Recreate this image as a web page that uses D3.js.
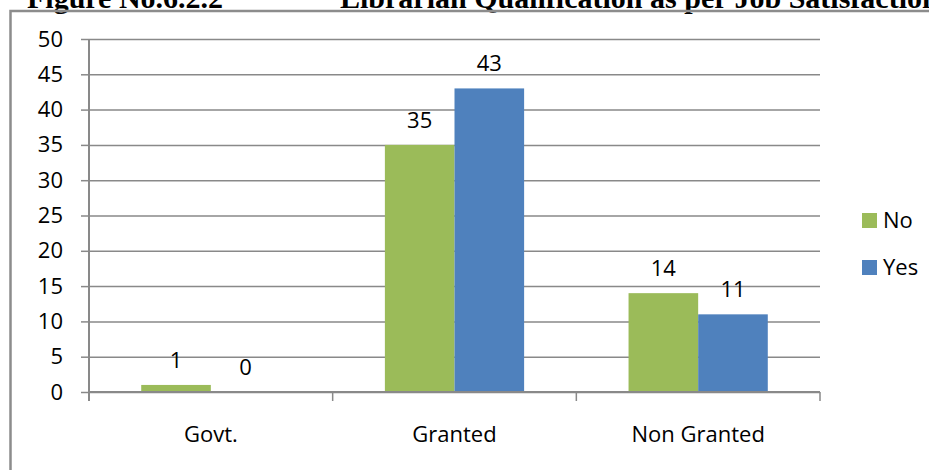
<!DOCTYPE html>
<html>
<head>
<meta charset="utf-8">
<script src="https://cdn.jsdelivr.net/npm/d3@7"></script>
<style>
  html, body { margin: 0; padding: 0; background: #fff; overflow: hidden; }
  svg { display: block; }
</style>
</head>
<body>
<svg id="chart" width="929" height="470"></svg>
<script>
// Librarian qualification by job satisfaction
const categories = ["Govt.", "Granted", "Non Granted"];
const seriesNames = ["No", "Yes"];
const noValues = [1, 35, 14];
const yesValues = [0, 43, 11];
const yTicks = [0, 5, 10, 15, 20, 25, 30, 35, 40, 45, 50];
const colors = { No: "#9BBB59", Yes: "#4F81BD" };

const rows = categories.map((c, i) => ({ category: c, No: noValues[i], Yes: yesValues[i] }));

const svg = d3.select("#chart");
const font = "'Open Sans', 'Noto Sans', sans-serif";
const axisGray = "#898989";

const plot = { left: 89, right: 820, top: 39, bottom: 392 };

// Figure caption above the chart frame
svg.append("text")
  .attr("x", 27).attr("y", 8)
  .attr("font-family", "'Liberation Serif', 'Times New Roman', serif")
  .attr("font-weight", "bold").attr("font-size", 30)
  .attr("fill", "#000")
  .text("Figure No.6.2.2");
svg.append("text")
  .attr("x", 340).attr("y", 8)
  .attr("font-family", "'Liberation Serif', 'Times New Roman', serif")
  .attr("font-weight", "bold").attr("font-size", 30)
  .attr("fill", "#000")
  .text("Librarian Qualification as per Job Satisfaction");

// Chart frame (runs past the right and bottom edges)
svg.append("rect")
  .attr("x", 10.5).attr("y", 11)
  .attr("width", 1000).attr("height", 1000)
  .attr("fill", "none")
  .attr("stroke", "#8c8c8c").attr("stroke-width", 2.5);

const y = d3.scaleLinear().domain([0, 50]).range([plot.bottom, plot.top]);
const x0 = d3.scaleBand().domain(categories).range([plot.left, plot.right]).paddingInner(0).paddingOuter(0);
const x1 = d3.scaleBand().domain(seriesNames).range([0, x0.bandwidth()]).paddingInner(0).paddingOuter(0.75);

// Horizontal gridlines
const grid = svg.append("g")
  .attr("transform", `translate(${plot.left},0)`)
  .call(d3.axisLeft(y).tickValues(yTicks).tickSize(-(plot.right - plot.left)).tickFormat(""));
grid.select(".domain").remove();
grid.selectAll(".tick line").attr("stroke", axisGray).attr("stroke-width", 1.5);

// Y axis with labels
const yAxis = svg.append("g")
  .attr("transform", `translate(${plot.left},0)`)
  .call(d3.axisLeft(y).tickValues(yTicks).tickSize(8).tickPadding(18).tickSizeOuter(0));
yAxis.select(".domain").remove();
yAxis.selectAll(".tick line").attr("stroke", axisGray).attr("stroke-width", 1.5);
yAxis.selectAll(".tick text")
  .attr("font-family", font).attr("font-size", 22).attr("fill", "#000");

// Y axis spine, extended slightly below zero
svg.append("line")
  .attr("x1", plot.left).attr("x2", plot.left)
  .attr("y1", plot.top).attr("y2", plot.bottom + 9)
  .attr("stroke", axisGray).attr("stroke-width", 2);

// Bars
const groups = svg.append("g").selectAll("g")
  .data(rows).join("g")
  .attr("transform", d => `translate(${x0(d.category)},0)`);

groups.selectAll("rect")
  .data(d => seriesNames.map(k => ({ key: k, value: d[k] })))
  .join("rect")
  .attr("x", d => x1(d.key))
  .attr("width", x1.bandwidth())
  .attr("y", d => y(d.value))
  .attr("height", d => y(0) - y(d.value))
  .attr("fill", d => colors[d.key]);

// Value labels
groups.selectAll("text.value")
  .data(d => seriesNames.map(k => ({ key: k, value: d[k] })))
  .join("text")
  .attr("class", "value")
  .attr("x", d => x1(d.key) + x1.bandwidth() / 2)
  .attr("y", d => y(d.value) - 17)
  .attr("text-anchor", "middle")
  .attr("font-family", font).attr("font-size", 22).attr("fill", "#000")
  .text(d => d.value);

// X axis with category labels
const xAxis = svg.append("g")
  .attr("transform", `translate(0,${plot.bottom})`)
  .call(d3.axisBottom(x0).tickSize(0).tickPadding(0));
xAxis.select(".domain").remove();
xAxis.selectAll(".tick text")
  .attr("dy", null).attr("y", 50)
  .attr("font-family", font).attr("font-size", 22).attr("fill", "#000");

svg.append("line")
  .attr("x1", plot.left).attr("x2", plot.right)
  .attr("y1", plot.bottom).attr("y2", plot.bottom)
  .attr("stroke", axisGray).attr("stroke-width", 2);

// Category boundary tick marks
const boundaries = categories.map(c => x0(c)).concat([x0.range()[1]]).slice(1);
svg.append("g").selectAll("line")
  .data(boundaries).join("line")
  .attr("x1", d => d).attr("x2", d => d)
  .attr("y1", plot.bottom).attr("y2", plot.bottom + 9)
  .attr("stroke", axisGray).attr("stroke-width", 1.5);

// Legend
const legend = svg.append("g").selectAll("g")
  .data(seriesNames).join("g")
  .attr("transform", (d, i) => `translate(862,${213 + i * 47})`);
legend.append("rect")
  .attr("width", 15).attr("height", 15)
  .attr("fill", d => colors[d]);
legend.append("text")
  .attr("x", 21).attr("y", 7.5).attr("dy", "0.36em")
  .attr("font-family", font).attr("font-size", 22).attr("fill", "#000")
  .text(d => d);
</script>
</body>
</html>
